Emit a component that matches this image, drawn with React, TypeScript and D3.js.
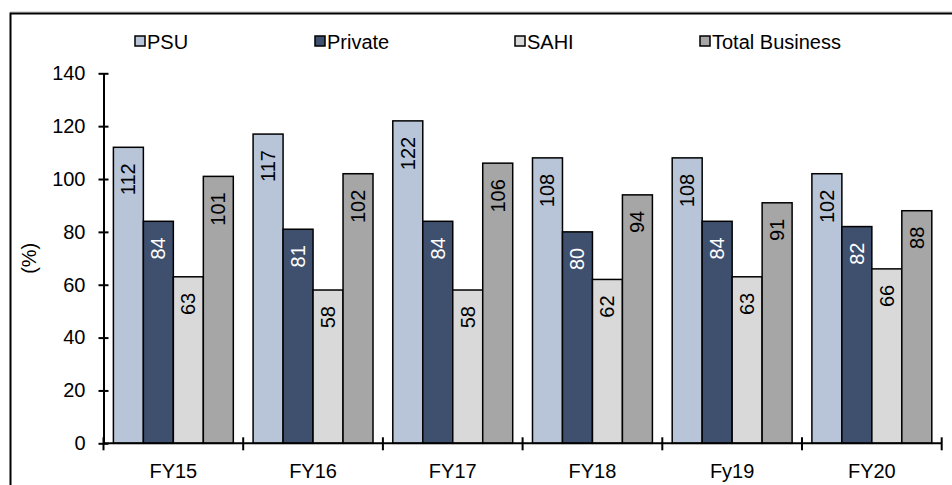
import React, { useEffect, useRef } from "react";
import * as d3 from "d3";

const years = ["FY15", "FY16", "FY17", "FY18", "Fy19", "FY20"];
const seriesNames = ["PSU", "Private", "SAHI", "Total Business"];
const psu = [112, 117, 122, 108, 108, 102];
const privateCos = [84, 81, 84, 80, 84, 82];
const sahi = [63, 58, 58, 62, 63, 66];
const totalBusiness = [101, 102, 106, 94, 91, 88];
const yTicks = [0, 20, 40, 60, 80, 100, 120, 140];

const colors = ["#b8c4d8", "#3f4f6e", "#d9d9d9", "#a6a6a6"];
const labelColors = ["#000", "#fff", "#000", "#000"];
const font = "'Liberation Sans', Arial, sans-serif";

export default function App() {
  const ref = useRef<SVGSVGElement>(null);

  useEffect(() => {
    const W = 952,
      H = 485;
    const margin = { top: 73.3, left: 103.5, right: 10.3, bottom: 41.7 };
    const svg = d3.select(ref.current).attr("width", W).attr("height", H);
    svg.selectAll("*").remove();

    // frame (right and bottom edges fall outside the picture)
    svg.append("rect").attr("x", 10.5).attr("y", 12).attr("width", 960).attr("height", 500)
      .attr("fill", "none").attr("stroke", "#bbb").attr("stroke-width", 1);
    svg.append("rect").attr("x", 10.5).attr("y", 13.5).attr("width", 960).attr("height", 500)
      .attr("fill", "#fff").attr("stroke", "#000").attr("stroke-width", 2);

    // title, almost entirely cut off at the top
    svg.append("text")
      .attr("x", 797).attr("y", -2.6)
      .attr("text-anchor", "end")
      .attr("font-family", font).attr("font-size", 17).attr("font-weight", "bold")
      .attr("fill", "#1f3c88")
      .text("Incurred claims ratio (retail health business) trend (%)");

    const x0 = margin.left, x1 = W - margin.right;
    const yBase = H - margin.bottom;

    const x = d3.scaleBand().domain(years).range([x0, x1]).paddingInner(0).paddingOuter(0);
    const xs = d3.scaleBand().domain(seriesNames).range([0, x.bandwidth()]).paddingInner(0).paddingOuter(0.33);
    const y = d3.scaleLinear().domain([0, 140]).range([yBase, margin.top]);

    const data = [psu, privateCos, sahi, totalBusiness];
    const rows = years.flatMap((yr, i) =>
      seriesNames.map((s, j) => ({ yr, s, j, v: data[j][i] }))
    );

    const g = svg.append("g");
    g.selectAll("rect.bar")
      .data(rows)
      .join("rect")
      .attr("class", "bar")
      .attr("x", (d) => (x(d.yr) as number) + (xs(d.s) as number))
      .attr("y", (d) => y(d.v))
      .attr("width", xs.bandwidth())
      .attr("height", (d) => y(0) - y(d.v))
      .attr("fill", (d) => colors[d.j])
      .attr("stroke", "#000")
      .attr("stroke-width", 1.5);

    g.selectAll("text.lbl")
      .data(rows)
      .join("text")
      .attr("class", "lbl")
      .attr("transform", (d) => {
        const cx = (x(d.yr) as number) + (xs(d.s) as number) + xs.bandwidth() / 2;
        return `translate(${cx}, ${y(d.v) + 16}) rotate(-90)`;
      })
      .attr("text-anchor", "end")
      .attr("dy", "0.35em")
      .attr("font-family", font)
      .attr("font-size", 20)
      .attr("fill", (d) => labelColors[d.j])
      .text((d) => d.v);

    // y axis
    const yAxis = svg.append("g")
      .attr("transform", `translate(${x0}, 0)`)
      .call(d3.axisLeft(y).tickValues(yTicks).tickSize(5).tickPadding(13).tickSizeOuter(0));
    yAxis.select(".domain").attr("stroke", "#000").attr("stroke-width", 2);
    yAxis.selectAll(".tick line").attr("x1", 5).attr("stroke", "#000").attr("stroke-width", 2);
    yAxis.selectAll(".tick text").attr("font-family", font).attr("font-size", 20).attr("fill", "#000");

    // x axis with boundary ticks
    svg.append("line").attr("x1", x0).attr("x2", x1).attr("y1", yBase).attr("y2", yBase)
      .attr("stroke", "#000").attr("stroke-width", 2);
    const bounds = years.map((yr) => x(yr) as number).concat([x1]);
    svg.selectAll("line.xt")
      .data(bounds)
      .join("line")
      .attr("class", "xt")
      .attr("x1", (d) => d).attr("x2", (d) => d)
      .attr("y1", yBase - 6).attr("y2", yBase + 7)
      .attr("stroke", "#000").attr("stroke-width", 2);
    svg.selectAll("text.xl")
      .data(years)
      .join("text")
      .attr("class", "xl")
      .attr("x", (d) => (x(d) as number) + x.bandwidth() / 2)
      .attr("y", 478)
      .attr("text-anchor", "middle")
      .attr("font-family", font).attr("font-size", 20)
      .text((d) => d);

    // y axis title
    svg.append("text")
      .attr("transform", `translate(36, ${(yBase + margin.top) / 2}) rotate(-90)`)
      .attr("text-anchor", "middle")
      .attr("font-family", font).attr("font-size", 20)
      .text("(%)");

    // legend
    const legendX = [135, 315, 515, 700];
    const leg = svg.selectAll("g.leg")
      .data(seriesNames)
      .join("g")
      .attr("class", "leg")
      .attr("transform", (d, i) => `translate(${legendX[i]}, 41)`);
    leg.append("rect")
      .attr("x", 0).attr("y", -5).attr("width", 10).attr("height", 10)
      .attr("fill", (d, i) => colors[i])
      .attr("stroke", "#000").attr("stroke-width", 1.5);
    leg.append("text")
      .attr("x", 12).attr("y", 7.5)
      .attr("font-family", font).attr("font-size", 20)
      .text((d) => d);
  }, []);

  return <svg ref={ref} style={{ position: "absolute", left: 0, top: 0 }}></svg>;
}
